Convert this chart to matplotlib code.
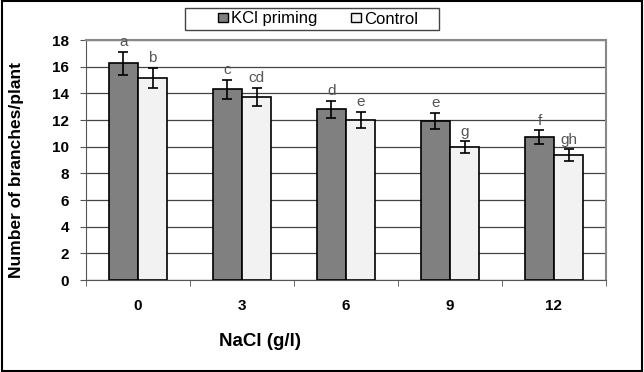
import numpy as np
import matplotlib.pyplot as plt
from matplotlib.patches import Rectangle

# data
nacl = ['0', '3', '6', '9', '12']
kcl = [16.25, 14.3, 12.8, 11.95, 10.7]
kcl_err = [0.85, 0.7, 0.65, 0.6, 0.52]
control = [15.15, 13.73, 12.0, 9.95, 9.35]
control_err = [0.78, 0.7, 0.6, 0.45, 0.45]
kcl_letters = ['a', 'c', 'd', 'e', 'f']
control_letters = ['b', 'cd', 'e', 'g', 'gh']

plt.rcParams['font.family'] = ['Liberation Sans', 'DejaVu Sans']

W, H = 644, 372
fig = plt.figure(figsize=(W / 100, H / 100), dpi=100)
# plot area in pixels: x 86..606, y 40..280
ax = fig.add_axes([86 / W, 1 - 280 / H, 520 / W, 240 / H])

x = np.arange(len(nacl))
w = 0.28
ax.bar(x - w / 2, kcl, w, color='#808080', edgecolor='black', linewidth=1.2,
       label='KCl priming', zorder=3)
ax.bar(x + w / 2, control, w, color='#f2f2f2', edgecolor='black', linewidth=1.2,
       label='Control', zorder=3)
ax.errorbar(x - w / 2, kcl, yerr=kcl_err, fmt='none', ecolor='black',
            elinewidth=1.2, capsize=3.5, capthick=1.2, zorder=4)
ax.errorbar(x + w / 2, control, yerr=control_err, fmt='none', ecolor='black',
            elinewidth=1.2, capsize=3.5, capthick=1.2, zorder=4)

for i in range(len(nacl)):
    ax.text(x[i] - w / 2, kcl[i] + kcl_err[i] + 0.2, kcl_letters[i],
            ha='center', va='bottom', fontsize=11, color='#555555', zorder=5)
    ax.text(x[i] + w / 2, control[i] + control_err[i] + 0.2, control_letters[i],
            ha='center', va='bottom', fontsize=11, color='#555555', zorder=5)

ax.set_xlim(-0.5, len(nacl) - 0.5)
ax.set_ylim(0, 18)
ax.set_yticks(np.arange(0, 19, 2))
ax.yaxis.grid(True, color='#444444', linewidth=0.9)
ax.set_axisbelow(True)

ax.set_xticks(x)
ax.set_xticklabels(nacl, fontsize=11, fontweight='bold')
ax.tick_params(axis='x', length=0, pad=14)
ax.set_xticks(np.arange(-0.5, len(nacl), 1), minor=True)
ax.tick_params(axis='x', which='minor', length=4, color='#555555')
ax.tick_params(axis='y', labelsize=11, length=4, color='#555555', pad=8)
for lab in ax.get_yticklabels():
    lab.set_fontweight('bold')

for s in ['top', 'right']:
    ax.spines[s].set_color('#888888')
    ax.spines[s].set_linewidth(1.5)
for s in ['left', 'bottom']:
    ax.spines[s].set_color('#555555')

ax.set_ylabel('Number of branches/plant', fontsize=12.5, fontweight='bold', va='center')
ax.yaxis.set_label_coords((17 - 86) / 520, (280 - 170) / 240)
ax.set_xlabel('NaCl (g/l)', fontsize=13.5, fontweight='bold', va='center')
ax.xaxis.set_label_coords((260 - 86) / 520, (280 - 341) / 240)

leg = fig.legend(loc='center', bbox_to_anchor=(318 / W, 1 - 19 / H), ncol=2,
                 fontsize=12, frameon=False,
                 handlelength=0.6, handleheight=0.4, handletextpad=0.2,
                 columnspacing=2.0, borderpad=0.2)
for h in leg.legend_handles:
    h.set_linewidth(1.0)

# legend box and outer frame
fig.patches.append(Rectangle((185 / W, 1 - 30 / H), 254 / W, 22 / H,
                             transform=fig.transFigure, fill=False,
                             edgecolor='#444444', linewidth=1.0))
fig.patches.append(Rectangle((0.003, 0.004), 0.994, 0.992, transform=fig.transFigure,
                             fill=False, edgecolor='black', linewidth=1.5))

plt.savefig('out.png', dpi=100)
plt.close()
